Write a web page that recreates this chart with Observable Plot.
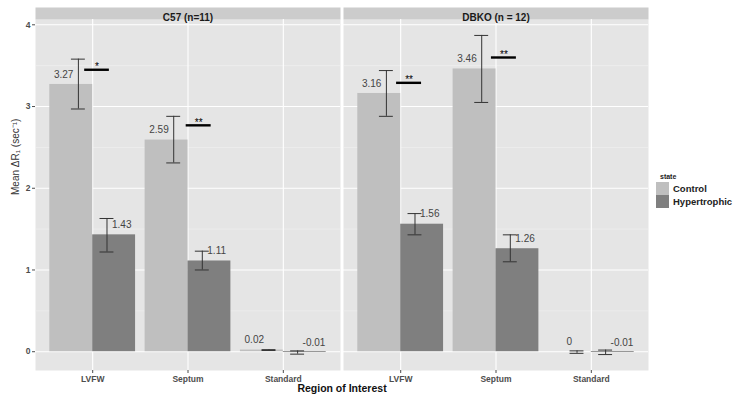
<!DOCTYPE html>
<html>
<head>
<meta charset="utf-8">
<script src="https://cdn.jsdelivr.net/npm/d3@7"></script>
<script src="https://cdn.jsdelivr.net/npm/@observablehq/plot@0.6"></script>
<style>
  body { margin: 0; background: #fff; font-family: "Liberation Sans", Arial, sans-serif; }
  #wrap { position: relative; width: 743px; height: 403px; }
  .legend { position: absolute; left: 656px; top: 173px; color: #222; }
  .legend .ttl { font-size: 7px; font-weight: bold; margin: 0 0 2px 4px; }
  .legend .row { display: flex; align-items: center; height: 13px; }
  .legend .key { width: 13px; height: 13px; margin-right: 4px; }
  .legend .lab { font-size: 9.5px; font-weight: bold; }
</style>
</head>
<body>
<div id="wrap"></div>
<script>
// ---- data ----
const panels = ["C57 (n=11)", "DBKO (n = 12)"];
const regions = ["LVFW", "Septum", "Standard"];
const states = ["Control", "Hypertrophic"];
const yTicks = [0, 1, 2, 3, 4];

const c57Control      = [3.27, 2.59, 0.02];
const c57ControlLow   = [2.97, 2.31, 0.015];
const c57ControlHigh  = [3.58, 2.88, 0.025];
const c57Hyper        = [1.43, 1.11, -0.01];
const c57HyperLow     = [1.22, 1.00, -0.03];
const c57HyperHigh    = [1.63, 1.23, 0.01];

const dbkoControl     = [3.16, 3.46, 0];
const dbkoControlLow  = [2.88, 3.05, -0.02];
const dbkoControlHigh = [3.44, 3.87, 0.01];
const dbkoHyper       = [1.56, 1.26, -0.01];
const dbkoHyperLow    = [1.43, 1.10, -0.035];
const dbkoHyperHigh   = [1.69, 1.43, 0.02];

// significance annotations
const sigPanel  = [0, 0, 1, 1];
const sigRegion = [0, 1, 0, 1];
const sigValue  = [3.45, 2.77, 3.29, 3.60];
const sigFrom   = [-0.084, -0.019, -0.043, -0.048];
const sigTo     = [0.175, 0.243, 0.219, 0.214];
const sigText   = ["*", "**", "**", "**"];

// ---- build table ----
const series = [
  [c57Control, c57ControlLow, c57ControlHigh, c57Hyper, c57HyperLow, c57HyperHigh],
  [dbkoControl, dbkoControlLow, dbkoControlHigh, dbkoHyper, dbkoHyperLow, dbkoHyperHigh]
];
const rows = [];
panels.forEach((p, pi) => {
  const [cm, cl, ch, hm, hl, hh] = series[pi];
  regions.forEach((r, i) => {
    rows.push({panel: p, region: r, i, state: "Control", mean: cm[i], lo: cl[i], hi: ch[i]});
    rows.push({panel: p, region: r, i, state: "Hypertrophic", mean: hm[i], lo: hl[i], hi: hh[i]});
  });
});
const sig = sigText.map((t, k) => ({
  panel: panels[sigPanel[k]], i: sigRegion[k], y: sigValue[k],
  x1: sigRegion[k] + sigFrom[k], x2: sigRegion[k] + sigTo[k], text: t
}));

const barStart = {Control: -0.45, Hypertrophic: 0};
const errOff = {Control: -0.15, Hypertrophic: 0.15};
const ex = d => d.i + errOff[d.state];
const ctrl = rows.filter(d => d.state === "Control");
const hyp = rows.filter(d => d.state === "Hypertrophic");

const chart = Plot.plot({
  width: 743,
  height: 403,
  marginLeft: 34,
  marginRight: 95,
  marginTop: 19,
  marginBottom: 33,
  style: {fontFamily: "'Liberation Sans', Arial, sans-serif", background: "white"},
  fx: {domain: panels, axis: null, paddingInner: 0.01, paddingOuter: 0},
  x: {domain: [-0.6, 2.6]},
  y: {domain: [-0.23, 4.065]},
  color: {domain: states, range: ["#bfbfbf", "#7f7f7f"]},
  marks: [
    Plot.frame({fill: "#e5e5e5", stroke: null}),
    Plot.frame({fill: "#cccccc", stroke: null, insetTop: -12, insetBottom: 351}),
    Plot.gridY([0.5, 1.5, 2.5, 3.5], {stroke: "#f2f2f2", strokeOpacity: 1, strokeWidth: 0.6}),
    Plot.gridY(yTicks, {stroke: "white", strokeOpacity: 1, strokeWidth: 1.1}),
    Plot.gridX([0, 1, 2], {stroke: "white", strokeOpacity: 1, strokeWidth: 1.1}),
    Plot.text(panels, {fx: d => d, text: d => d, frameAnchor: "top", dy: -6,
      fontSize: 10, fontWeight: "bold", fill: "#1a1a1a"}),
    Plot.rectY(rows, {
      fx: "panel",
      x1: d => d.i + barStart[d.state],
      x2: d => d.i + barStart[d.state] + 0.45,
      y: "mean",
      fill: "state"
    }),
    Plot.ruleX(rows, {fx: "panel", x: ex, y1: "lo", y2: "hi", stroke: "#333", strokeWidth: 1}),
    Plot.ruleY(rows, {fx: "panel", y: "hi", x1: d => ex(d) - 0.073, x2: d => ex(d) + 0.073, stroke: "#333", strokeWidth: 1}),
    Plot.ruleY(rows, {fx: "panel", y: "lo", x1: d => ex(d) - 0.073, x2: d => ex(d) + 0.073, stroke: "#333", strokeWidth: 1}),
    Plot.text(ctrl, {fx: "panel", x: ex, y: "mean", text: d => String(d.mean),
      textAnchor: "end", dx: -5, dy: -10, fontSize: 10, fill: "#444"}),
    Plot.text(hyp, {fx: "panel", x: ex, y: "mean", text: d => String(d.mean),
      textAnchor: "start", dx: 5, dy: -10, fontSize: 10, fill: "#444"}),
    Plot.ruleY(sig, {fx: "panel", y: "y", x1: "x1", x2: "x2", stroke: "black", strokeWidth: 2.4}),
    Plot.text(sig, {fx: "panel", x: d => (d.x1 + d.x2) / 2, y: "y", text: "text",
      dy: -3, fontSize: 10, fill: "#000"}),
    Plot.axisY(yTicks, {tickFormat: d => String(d), tickSize: 3, tickPadding: 2, fontSize: 8.5,
      fontWeight: "bold", color: "#4d4d4d", label: null}),
    Plot.axisX([0, 1, 2], {tickFormat: i => regions[i], tickSize: 3, tickPadding: 2, fontSize: 8.5,
      fontWeight: "bold", color: "#4d4d4d", label: null}),
    Plot.text([panels[0]], {fx: d => d, text: () => "Mean \u0394R\u2081 (sec\u207B\u00B9)",
      frameAnchor: "left", rotate: -90, dx: -20, fontSize: 10, fill: "#333"}),
    Plot.text([panels[0]], {fx: d => d, text: () => "Region of Interest",
      frameAnchor: "bottom-right", textAnchor: "middle", dx: 1.5, dy: 21,
      fontSize: 10.5, fontWeight: "bold", fill: "#111"})
  ]
});

const wrap = document.getElementById("wrap");
wrap.appendChild(chart);

const legend = document.createElement("div");
legend.className = "legend";
const ttl = document.createElement("div");
ttl.className = "ttl";
ttl.textContent = "state";
legend.appendChild(ttl);
const legendColors = ["#bfbfbf", "#7f7f7f"];
states.forEach((s, k) => {
  const row = document.createElement("div");
  row.className = "row";
  const key = document.createElement("div");
  key.className = "key";
  key.style.background = legendColors[k];
  const lab = document.createElement("div");
  lab.className = "lab";
  lab.textContent = s;
  row.appendChild(key);
  row.appendChild(lab);
  legend.appendChild(row);
});
wrap.appendChild(legend);
</script>
</body>
</html>
